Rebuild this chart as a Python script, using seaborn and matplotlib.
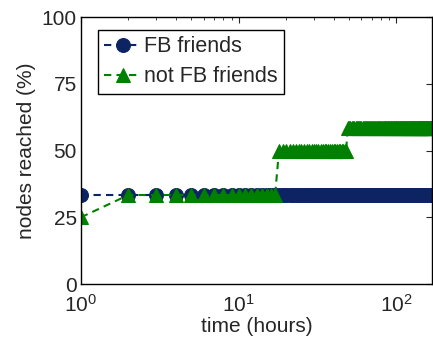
import numpy as np
import pandas as pd
import matplotlib
matplotlib.use("Agg")
import matplotlib.pyplot as plt
import seaborn as sns

sns.set_style("white")
plt.rcParams['font.family'] = ['Liberation Sans', 'DejaVu Sans']
plt.rcParams['mathtext.fontset'] = 'custom'
plt.rcParams['mathtext.rm'] = 'Liberation Sans'

hours = list(range(1, 169))
fb_friends = [33.33] * 168
not_fb_friends = [25.0] + [33.33] * 16 + [50.0] * 31 + [58.33] * 120
series_names = ["FB friends", "not FB friends"]
colors = ["#0c2461", "#008000"]
markers = ["o", "^"]
yticks = [0, 25, 50, 75, 100]

df = pd.concat([
    pd.DataFrame({"hours": hours, "pct": fb_friends, "series": series_names[0]}),
    pd.DataFrame({"hours": hours, "pct": not_fb_friends, "series": series_names[1]}),
])

fig = plt.figure(figsize=(4.33, 3.47), dpi=100)
ax = fig.add_axes([81/433, 1-284/347, (432-81)/433, (284-17)/347])

for name, c, m in zip(series_names, colors, markers):
    sub = df[df.series == name]
    sns.lineplot(data=sub, x="hours", y="pct", ax=ax, color=c, marker=m,
                 markersize=10, markeredgecolor=c, linewidth=1.5,
                 label=name)
    ax.lines[-1].set_linestyle((0, (3.5, 2.5)))

ax.set_xscale("log")
ax.set_xlim(1, 168)
ax.set_ylim(0, 100)
ax.set_yticks(yticks)
ax.set_xlabel("time (hours)", fontsize=15, labelpad=1)
ax.set_ylabel("nodes reached (%)", fontsize=15, labelpad=4)
ax.tick_params(axis="both", which="both", direction="in", top=True, right=True,
               labelsize=15)
ax.tick_params(axis="both", which="major", length=4)
ax.tick_params(axis="x", which="minor", length=2)
ax.tick_params(axis="x", pad=7)
ax.tick_params(axis="y", pad=3)
for s in ax.spines.values():
    s.set_color("black")
    s.set_linewidth(1.0)

leg = ax.legend(loc="upper left", bbox_to_anchor=(17/351, 1 - 13/267),
                fontsize=15.5, frameon=True, fancybox=False,
                edgecolor="black", handlelength=1.7, handletextpad=0.15,
                borderpad=0.3, labelspacing=0.4, borderaxespad=0,
                framealpha=1)
leg.get_frame().set_linewidth(1.0)

fig.savefig("out.png", dpi=100)
